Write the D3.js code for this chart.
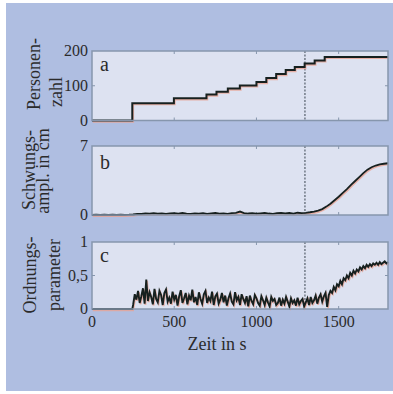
<!DOCTYPE html>
<html>
<head>
<meta charset="utf-8">
<script src="https://cdn.jsdelivr.net/npm/d3@7"></script>
<style>
  html, body { margin: 0; padding: 0; background: #fff; }
  svg { display: block; }
  text { font-family: "Liberation Serif", "DejaVu Serif", serif; fill: #2b2b2b; }
</style>
</head>
<body>
<div id="chart"></div>
<script>
// panel a: number of persons (step changes)
const personTimes = [0, 245, 498, 696, 757, 826, 899, 1000, 1060, 1120, 1178, 1233, 1293, 1354, 1415, 1800];
const personCounts = [0, 50, 64, 75, 83, 92, 101, 111, 122, 134, 145, 154, 164, 173, 183, 183];

// panel b: oscillation amplitude in cm, every 25 s
const amplValues = [
  0.02, 0.03, 0.02, 0.03, 0.02, 0.03, 0.02, 0.03, 0.02, 0.03,
  0.05, 0.12, 0.10, 0.15, 0.13, 0.18, 0.14, 0.17, 0.12, 0.16,
  0.19, 0.14, 0.20, 0.15, 0.11, 0.16, 0.13, 0.18, 0.12, 0.17,
  0.20, 0.14, 0.16, 0.12, 0.18, 0.22, 0.35, 0.20, 0.15, 0.18,
  0.13, 0.17, 0.21, 0.15, 0.12, 0.18, 0.22, 0.16, 0.20, 0.14,
  0.23, 0.19, 0.22, 0.28, 0.35, 0.45, 0.60, 0.85, 1.15, 1.50,
  1.85, 2.25, 2.62, 3.05, 3.45, 3.85, 4.25, 4.60, 4.85, 5.02,
  5.13, 5.20, 5.25
];

// panel c: order parameter, zero until 245 s, then every 10 s from 250 s
const orderValues = [
  0.06, 0.22, 0.14, 0.27, 0.09, 0.19, 0.31, 0.08, 0.44, 0.12,
  0.25, 0.18, 0.07, 0.30, 0.15, 0.10, 0.27, 0.21, 0.06, 0.24,
  0.29, 0.11, 0.17, 0.08, 0.26, 0.14, 0.21, 0.05, 0.19, 0.28,
  0.09, 0.16, 0.24, 0.07, 0.20, 0.13, 0.29, 0.10, 0.18, 0.06,
  0.25, 0.15, 0.08, 0.22, 0.27, 0.09, 0.17, 0.12, 0.26, 0.06,
  0.19, 0.23, 0.08, 0.14, 0.24, 0.10, 0.20, 0.05, 0.16, 0.23,
  0.11, 0.07, 0.25, 0.13, 0.18, 0.06, 0.22, 0.15, 0.09, 0.19,
  0.04, 0.20, 0.12, 0.07, 0.21, 0.16, 0.09, 0.05, 0.19, 0.13,
  0.06, 0.17, 0.10, 0.04, 0.18, 0.12, 0.15, 0.06, 0.09, 0.17,
  0.05, 0.14, 0.08, 0.18, 0.11, 0.04, 0.16, 0.09, 0.13, 0.05,
  0.17, 0.07, 0.12, 0.15, 0.04, 0.10, 0.16, 0.06, 0.18, 0.09,
  0.13, 0.20, 0.08, 0.17, 0.22, 0.11, 0.19, 0.24, 0.03, 0.21,
  0.27, 0.24, 0.33, 0.28, 0.37, 0.34, 0.42, 0.37, 0.46, 0.43,
  0.50, 0.46, 0.54, 0.50, 0.57, 0.53, 0.59, 0.56, 0.62, 0.59,
  0.64, 0.61, 0.66, 0.63, 0.67, 0.64, 0.68, 0.66, 0.69, 0.66,
  0.70, 0.67, 0.69, 0.71, 0.68, 0.70
];

const xTicks = [0, 500, 1000, 1500];
const markerTime = 1295;

const width = 393, height = 394;
const bg = '#afbee1', plotBg = '#dde2f1', frameColor = '#8696ad',
      lineColor = '#16201f', ghostColor = '#e9a293';

const svg = d3.select('#chart').append('svg')
  .attr('width', width)
  .attr('height', height);

svg.append('rect')
  .attr('x', 6).attr('y', 3)
  .attr('width', width - 6).attr('height', 388)
  .attr('fill', bg);

const x = d3.scaleLinear().domain([0, 1800]).range([92, 388]);

const ampTimes = d3.range(0, 1801, 25);
const ordTimes = [0, 245].concat(d3.range(250, 1801, 10));
const ordAll = [0, 0].concat(orderValues);

const panels = [
  {
    key: 'a', top: 51, bottom: 120.5, domain: [0, 200],
    ticks: [0, 100, 200], midTicks: [100], fmt: d => d,
    data: personTimes.map((t, i) => [t, personCounts[i]]),
    curve: d3.curveStepAfter, lw: 2,
    titles: [{ text: 'Personen-', x: 40, y: 74 }, { text: 'zahl', x: 62, y: 92 }],
    letterY: 70.5
  },
  {
    key: 'b', top: 146, bottom: 215, domain: [0, 7],
    ticks: [0, 7], midTicks: [], fmt: d => d,
    data: ampTimes.map((t, i) => [t, amplValues[i]]).filter(d => d[1] !== undefined),
    curve: d3.curveLinear, lw: 1.8,
    titles: [{ text: 'Schwungs-', x: 35, y: 170 }, { text: 'ampl. in cm', x: 49, y: 171 }],
    letterY: 169
  },
  {
    key: 'c', top: 242, bottom: 309, domain: [0, 1],
    ticks: [0, 0.5, 1], midTicks: [0.5], fmt: d => d === 0.5 ? '0,5' : d,
    data: ordTimes.map((t, i) => [t, ordAll[i]]).filter(d => d[1] !== undefined),
    curve: d3.curveLinear, lw: 1.9,
    titles: [{ text: 'Ordnungs-', x: 36, y: 275 }, { text: 'parameter', x: 60, y: 275 }],
    letterY: 262
  }
];

panels.forEach(p => {
  const y = d3.scaleLinear().domain(p.domain).range([p.bottom, p.top]);
  const g = svg.append('g').attr('class', 'panel-' + p.key);
  const [x0, x1] = x.range();

  g.append('rect')
    .attr('x', x0).attr('y', p.top)
    .attr('width', x1 - x0).attr('height', p.bottom - p.top)
    .attr('fill', plotBg);

  // inner ticks on all four sides
  const tickG = g.append('g').attr('stroke', frameColor).attr('stroke-width', 1);
  xTicks.filter(t => t > 0).forEach(t => {
    tickG.append('line').attr('x1', x(t)).attr('x2', x(t)).attr('y1', p.top).attr('y2', p.top + 3);
    tickG.append('line').attr('x1', x(t)).attr('x2', x(t)).attr('y1', p.bottom).attr('y2', p.bottom - 3);
  });
  p.midTicks.forEach(v => {
    tickG.append('line').attr('x1', x0).attr('x2', x0 + 3).attr('y1', y(v)).attr('y2', y(v));
    tickG.append('line').attr('x1', x1).attr('x2', x1 - 3).attr('y1', y(v)).attr('y2', y(v));
  });

  // dashed marker
  g.append('line')
    .attr('x1', x(markerTime)).attr('x2', x(markerTime))
    .attr('y1', p.top).attr('y2', p.bottom)
    .attr('stroke', '#3a4450').attr('stroke-width', 1)
    .attr('stroke-dasharray', '2,1.5');

  const line = d3.line().x(d => x(d[0])).y(d => y(d[1])).curve(p.curve);

  // faint reddish print offset under the curve
  g.append('path')
    .datum(p.data)
    .attr('d', line)
    .attr('transform', 'translate(0.8,1.2)')
    .attr('fill', 'none')
    .attr('stroke', ghostColor)
    .attr('stroke-width', p.lw)
    .attr('opacity', 0.8);

  g.append('path')
    .datum(p.data)
    .attr('d', line)
    .attr('fill', 'none')
    .attr('stroke', lineColor)
    .attr('stroke-width', p.lw)
    .attr('stroke-linejoin', 'miter');

  g.append('rect')
    .attr('x', x0).attr('y', p.top)
    .attr('width', x1 - x0).attr('height', p.bottom - p.top)
    .attr('fill', 'none')
    .attr('stroke', frameColor)
    .attr('stroke-width', 1.5);

  // y tick labels
  g.selectAll('text.ytick')
    .data(p.ticks)
    .join('text')
    .attr('class', 'ytick')
    .attr('x', 88)
    .attr('y', d => y(d))
    .attr('dy', '0.34em')
    .attr('text-anchor', 'end')
    .style('font-size', '16px')
    .text(p.fmt);

  g.append('text')
    .attr('x', 100).attr('y', p.letterY)
    .style('font-size', '20px')
    .text(p.key);

  p.titles.forEach(t => {
    g.append('text')
      .attr('transform', `translate(${t.x},${t.y}) rotate(-90)`)
      .attr('text-anchor', 'middle')
      .style('font-size', '18px')
      .text(t.text);
  });
});

// x tick labels under the last panel
svg.selectAll('text.xtick')
  .data(xTicks)
  .join('text')
  .attr('class', 'xtick')
  .attr('x', d => x(d))
  .attr('y', 327)
  .attr('text-anchor', 'middle')
  .style('font-size', '16px')
  .text(d => d);

svg.append('text')
  .attr('x', 217).attr('y', 350)
  .attr('text-anchor', 'middle')
  .style('font-size', '18px')
  .text('Zeit in s');
</script>
</body>
</html>
